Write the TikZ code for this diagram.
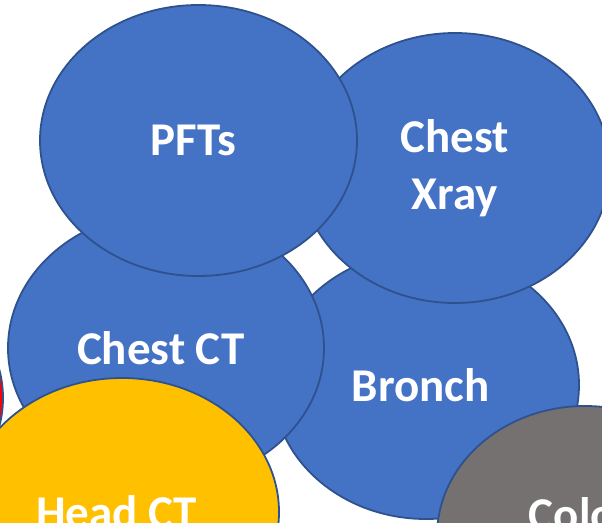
\documentclass[tikz,border=0pt]{standalone}
\usepackage{xcolor}
\usepackage{fontspec}
\setmainfont{Carlito}
\usepackage{tikz}
\usetikzlibrary{
  positioning,
  shapes.geometric
}
\definecolor{testblue}{HTML}{4472C4}
\definecolor{rimblue}{HTML}{2F528F}
\definecolor{testgold}{HTML}{FFC000}
\definecolor{testgrey}{HTML}{767171}
\definecolor{testred}{HTML}{FF0000}
\tikzset{
  test node/.style={
    ellipse,
    draw=rimblue,
    fill=testblue,
    line width=1.8pt,
    inner sep=0pt,
    align=center,
    text=white,
    font=\fontsize{47}{57}\selectfont\bfseries
  }
}
\tikzset{
  test size/.style 2 args={
    minimum width=#1pt,
    minimum height=#2pt
  }
}

\begin{document}
\begin{tikzpicture}[x=1pt,y=-1pt]

    % ------------------------------------------------------------
    % Frame
    % ------------------------------------------------------------

    \useasboundingbox (0,0) rectangle (602,522);
    \clip (0,0) rectangle (602,522);

    % ------------------------------------------------------------
    % Tests (back to front)
    % ------------------------------------------------------------

    \node[test node, test size={306}{268}] (bronch) at (426,385)
    {
      Bronch
    };

    \node[test node, test size={310}{270}] (xray) at (455,168)
    {
      Chest\\
      Xray
    };

    \node[test node, test size={316}{272}] (chestct) at (166,348)
    {
      Chest CT
    };

    \node[test node, test size={317}{271}] (pfts) at (198.5,140.5)
    {
      PFTs
    };

    % Red one is almost out of the frame
    \node[test node, test size={306}{260}, fill=testred] (redtest) at (-150,398)
    {};

    \node[test node, test size={314}{268}, fill=testgold] (headct) at (122,512)
    {
      Head CT
    };

    \node[test node, test size={296}{260}, fill=testgrey,
      label={[text=white, font=\fontsize{47}{57}\selectfont\bfseries,
        yshift=22pt]center:Colon}] (colon) at (585,536)
    {};

\end{tikzpicture}
\end{document}
